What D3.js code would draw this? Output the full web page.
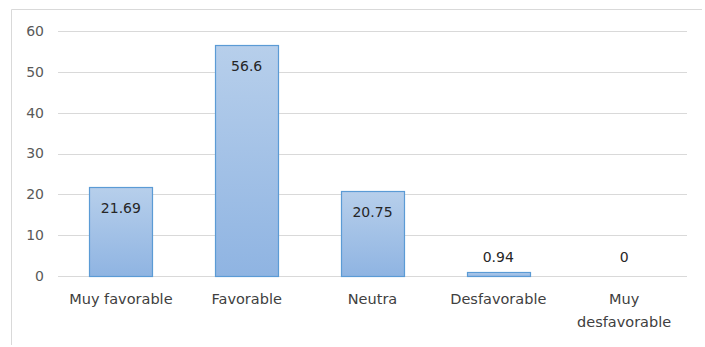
<!DOCTYPE html>
<html>
<head>
<meta charset="utf-8">
<script src="https://cdn.jsdelivr.net/npm/d3@7"></script>
<style>
  body { margin: 0; background: #fff; }
  svg text { font-family: "DejaVu Sans", sans-serif; }
</style>
</head>
<body>
<div id="chart"></div>
<script>
// chart data
const categories = ["Muy favorable", "Favorable", "Neutra", "Desfavorable", "Muy desfavorable"];
const values = [21.69, 56.6, 20.75, 0.94, 0];
const valueLabels = ["21.69", "56.6", "20.75", "0.94", "0"];
const yTicks = [0, 10, 20, 30, 40, 50, 60];

const WIDTH = 705;
const HEIGHT = 347;
const PLOT = {left: 58, right: 687, top: 31, bottom: 276};

const svg = d3.select("#chart").append("svg")
    .attr("width", WIDTH)
    .attr("height", HEIGHT);

// gradient for bars, lighter at top
const grad = svg.append("defs").append("linearGradient")
    .attr("id", "barGrad")
    .attr("x1", 0).attr("y1", 0).attr("x2", 0).attr("y2", 1);
grad.append("stop").attr("offset", "0%").attr("stop-color", "#b7cfeb");
grad.append("stop").attr("offset", "100%").attr("stop-color", "#8fb4e2");

// outer chart border (cut off on right/bottom)
svg.append("path")
    .attr("d", "M11.5,345 V9.5 H702")
    .attr("fill", "none")
    .attr("stroke", "#d9d9d9")
    .attr("stroke-width", 1);

const x = d3.scaleBand()
    .domain(categories)
    .range([PLOT.left, PLOT.right])
    .paddingInner(0.5)
    .paddingOuter(0.25);

const y = d3.scaleLinear()
    .domain([0, 60])
    .range([PLOT.bottom, PLOT.top]);

// gridlines
svg.append("g")
    .selectAll("line")
    .data(yTicks)
    .enter()
    .append("line")
    .attr("x1", PLOT.left)
    .attr("x2", PLOT.right)
    .attr("y1", d => Math.round(y(d)) + 0.5)
    .attr("y2", d => Math.round(y(d)) + 0.5)
    .attr("stroke", "#d9d9d9")
    .attr("stroke-width", 1);

// y axis labels
const yAxis = svg.append("g")
    .attr("transform", `translate(${PLOT.left - 14},0)`)
    .call(d3.axisLeft(y).tickValues(yTicks).tickSize(0).tickPadding(0));
yAxis.select(".domain").remove();
yAxis.selectAll("text")
    .attr("fill", "#595959")
    .style("font-size", "14px");

// bars
svg.append("g")
    .selectAll("rect")
    .data(values)
    .enter()
    .append("rect")
    .attr("x", (d, i) => Math.round(x(categories[i])) + 0.5)
    .attr("y", d => Math.round(y(d)) + 0.5)
    .attr("width", Math.round(x.bandwidth()))
    .attr("height", d => Math.max(0, Math.round(y(0)) - Math.round(y(d))))
    .attr("fill", "url(#barGrad)")
    .attr("stroke", d => d > 0 ? "#5b9bd5" : "none")
    .attr("stroke-width", 1.2);

// data labels: inside bar top, or above when bar is short
svg.append("g")
    .selectAll("text")
    .data(values)
    .enter()
    .append("text")
    .attr("x", (d, i) => x(categories[i]) + x.bandwidth() / 2)
    .attr("y", d => (y(0) - y(d) > 30) ? y(d) + 26 : y(0) - 14)
    .attr("text-anchor", "middle")
    .attr("fill", "#262626")
    .style("font-size", "14px")
    .text((d, i) => valueLabels[i]);

// category labels, wrapped on space for long names
const catLabels = svg.append("g")
    .selectAll("text")
    .data(categories)
    .enter()
    .append("text")
    .attr("x", d => x(d) + x.bandwidth() / 2)
    .attr("y", 304)
    .attr("text-anchor", "middle")
    .attr("fill", "#404040")
    .style("font-size", "14.5px");

catLabels.each(function(d) {
    const lines = d.length > 14 ? d.split(" ") : [d];
    const t = d3.select(this);
    lines.forEach((ln, k) => {
        t.append("tspan")
            .attr("x", x(d) + x.bandwidth() / 2)
            .attr("dy", k === 0 ? 0 : 23)
            .text(ln);
    });
});
</script>
</body>
</html>
